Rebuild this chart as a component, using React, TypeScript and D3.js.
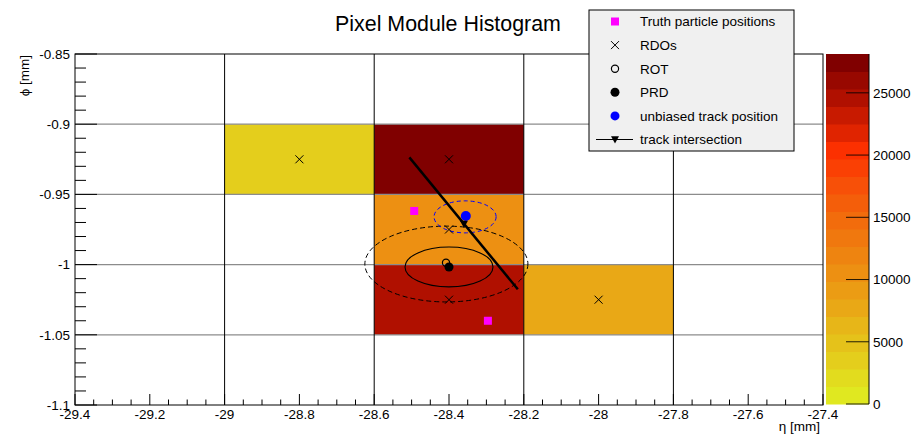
import React from "react";
import * as d3 from "d3";

// ---- data ----
const cellEta = [-29.0, -28.6, -28.6, -28.6, -28.2]; // lower eta edge
const cellPhi = [-0.95, -0.95, -1.0, -1.05, -1.05]; // lower phi edge
const cellValue = [4000, 28100, 10500, 24500, 7700];
const binW = 0.4;
const binH = 0.05;

const rdoEta = [-28.8, -28.4, -28.4, -28.4, -28.0];
const rdoPhi = [-0.925, -0.925, -0.975, -1.025, -1.025];

const truthEta = [-28.493, -28.296];
const truthPhi = [-0.9618, -1.04];

const rotPos = [-28.408, -0.9987];
const prdPos = [-28.4, -1.0017];
const unbiasedPos = [-28.355, -0.9654];
const intersectPos = [-28.36, -0.971];
const trackEta = [-28.506, -28.216];
const trackPhi = [-0.9236, -1.0176];

// ellipses: [cx, cy, rx, ry]
const prdErr = [-28.4, -1.0017, 0.1176, 0.0142];
const rotErr = [-28.407, -0.9996, 0.218, 0.027];
const unbiasedErr = [-28.357, -0.966, 0.083, 0.0114];

const xTicks = [-29.4, -29.2, -29, -28.8, -28.6, -28.4, -28.2, -28, -27.8, -27.6, -27.4];
const xTickLabels = ["-29.4", "-29.2", "-29", "-28.8", "-28.6", "-28.4", "-28.2", "-28", "-27.8", "-27.6", "-27.4"];
const yTicks = [-0.85, -0.9, -0.95, -1, -1.05, -1.1];
const yTickLabels = ["-0.85", "-0.9", "-0.95", "-1", "-1.05", "-1.1"];
const gridEta = [-29.0, -28.6, -28.2, -27.8];
const gridPhi = [-0.9, -0.95, -1.0, -1.05];
const zTicks = [0, 5000, 10000, 15000, 20000, 25000];
const zMax = 28120;

const palette = [
  "#e0e820", "#e2dc1e", "#e4ce1c", "#e5c21a", "#e7b618", "#e9a816", "#eb9c14", "#ed9012",
  "#ee8410", "#f0780e", "#f26c0c", "#f45e0a", "#f75008", "#fa4004", "#fc3000", "#e02400",
  "#c81a00", "#b01000", "#980800", "#800000",
];

const legendLabels = [
  "Truth particle positions",
  "RDOs",
  "ROT",
  "PRD",
  "unbiased track position",
  "track intersection",
];

const FONT = "'Liberation Sans', Arial, Helvetica, sans-serif";

export default function App() {
  const W = 919, H = 436;
  const L = 75, R = 823, T = 54, B = 405;
  const x = d3.scaleLinear().domain([-29.4, -27.4]).range([L, R]);
  const y = d3.scaleLinear().domain([-0.85, -1.1]).range([T, B]);
  const z = d3.scaleQuantize<string>().domain([0, zMax]).range(palette);
  const zb = d3.scaleLinear().domain([0, zMax]).range([404, 54]);
  const cbL = 826, cbR = 869;

  const minorX = d3.range(0, 41).map((i) => -29.4 + i * 0.05);
  const minorY = d3.range(0, 26).map((i) => -0.85 - i * 0.01);

  const cross = (cx: number, cy: number, s = 4) =>
    `M${cx - s},${cy - s}L${cx + s},${cy + s}M${cx - s},${cy + s}L${cx + s},${cy - s}`;
  const triDown = (cx: number, cy: number, s = 4) =>
    `M${cx - s},${cy - s * 0.8}L${cx + s},${cy - s * 0.8}L${cx},${cy + s}Z`;

  const ell = (e: number[], props: any) => (
    <ellipse
      cx={x(e[0])}
      cy={y(e[1])}
      rx={x(e[0] + e[2]) - x(e[0])}
      ry={y(e[1] - e[3]) - y(e[1])}
      fill="none"
      {...props}
    />
  );

  const legX = 589, legY = 10, legW = 205, legH = 141;
  const rowY = (i: number) => 21.5 + i * 23.6;
  const symX = 615;

  return (
    <svg width={W} height={H} style={{ position: "absolute", left: 0, top: 0, background: "#fff" }} fontFamily={FONT}>
      <rect x={0} y={0} width={W} height={H} fill="#fff" />
      {/* cells */}
      {cellValue.map((v, i) => (
        <rect
          key={"c" + i}
          x={x(cellEta[i])}
          y={y(cellPhi[i] + binH)}
          width={x(cellEta[i] + binW) - x(cellEta[i])}
          height={y(cellPhi[i]) - y(cellPhi[i] + binH)}
          fill={z(v)}
        />
      ))}
      {/* grid lines */}
      {gridPhi.map((p, i) => (
        <line key={"gh" + i} x1={L} x2={R} y1={y(p)} y2={y(p)} stroke="#8c8c8c" strokeWidth={1.2} />
      ))}
      {gridEta.map((e, i) => (
        <line key={"gv" + i} x1={x(e)} x2={x(e)} y1={T} y2={B} stroke="#000" strokeWidth={1} />
      ))}
      {/* x ticks */}
      {minorX.map((v, i) => {
        const major = i % 4 === 0;
        return (
          <line key={"mx" + i} x1={x(v)} x2={x(v)} y1={B} y2={B - (major ? 11 : 5.5)} stroke="#000" strokeWidth={1} />
        );
      })}
      {minorY.map((v, i) => {
        const major = i % 5 === 0;
        return (
          <line key={"my" + i} x1={L} x2={L + (major ? 22 : 11)} y1={y(v)} y2={y(v)} stroke="#000" strokeWidth={1} />
        );
      })}
      {/* frame */}
      <rect x={L} y={T} width={R - L} height={B - T} fill="none" stroke="#000" strokeWidth={1} />
      {/* tick labels */}
      {xTicks.map((v, i) => (
        <text key={"xl" + i} x={x(v)} y={419} textAnchor="middle" fontSize={13.5} fill="#000">
          {xTickLabels[i]}
        </text>
      ))}
      {yTicks.map((v, i) => (
        <text key={"yl" + i} x={70} y={y(v) + 4.8} textAnchor="end" fontSize={13.5} fill="#000">
          {yTickLabels[i]}
        </text>
      ))}
      <text x={820} y={431} textAnchor="end" fontSize={13.5} fill="#000">η [mm]</text>
      <text transform={`translate(29,55) rotate(-90)`} textAnchor="end" fontSize={13.5} fill="#000">ϕ [mm]</text>
      {/* title */}
      <text x={448} y={31} textAnchor="middle" fontSize={21.4} fill="#000">Pixel Module Histogram</text>

      {/* ellipses */}
      {ell(rotErr, { stroke: "#000", strokeWidth: 1, strokeDasharray: "5,3" })}
      {ell(prdErr, { stroke: "#000", strokeWidth: 1.1 })}
      {ell(unbiasedErr, { stroke: "#0000ff", strokeWidth: 1, strokeDasharray: "4,3" })}

      {/* RDOs */}
      {rdoEta.map((e, i) => (
        <path key={"r" + i} d={cross(x(e), y(rdoPhi[i]))} stroke="#000" strokeWidth={1} fill="none" />
      ))}
      {/* truth */}
      {truthEta.map((e, i) => (
        <rect key={"t" + i} x={x(e) - 4} y={y(truthPhi[i]) - 4} width={8} height={8} fill="#ff00ff" />
      ))}
      {/* track */}
      <line
        x1={x(trackEta[0])}
        y1={y(trackPhi[0])}
        x2={x(trackEta[1])}
        y2={y(trackPhi[1])}
        stroke="#000"
        strokeWidth={2.5}
      />
      <circle cx={x(unbiasedPos[0])} cy={y(unbiasedPos[1])} r={5} fill="#0000ff" />
      <path d={triDown(x(intersectPos[0]), y(intersectPos[1]), 4)} fill="#000" />
      <circle cx={x(prdPos[0])} cy={y(prdPos[1])} r={4.5} fill="#000" />
      <circle cx={x(rotPos[0])} cy={y(rotPos[1])} r={3.6} fill="none" stroke="#000" strokeWidth={1.2} />

      {/* color bar */}
      {palette.map((c, i) => {
        const lo = (i * zMax) / palette.length;
        const hi = ((i + 1) * zMax) / palette.length;
        return <rect key={"cb" + i} x={cbL} y={zb(hi)} width={cbR - cbL} height={zb(lo) - zb(hi) + 0.5} fill={c} />;
      })}
      <line x1={cbR} x2={cbR} y1={54} y2={404} stroke="#000" strokeWidth={1} />
      {zTicks.map((v, i) => (
        <g key={"zt" + i}>
          <line x1={cbR - 23} x2={cbR} y1={zb(v)} y2={zb(v)} stroke="#000" strokeWidth={1} opacity={0.85} />
          <text x={873} y={zb(v) + 4.8} fontSize={13.5} fill="#000">{String(v)}</text>
        </g>
      ))}

      {/* legend */}
      <rect x={legX} y={legY} width={legW} height={legH} fill="#f0f0f0" stroke="#000" strokeWidth={1} />
      {legendLabels.map((t, i) => (
        <text key={"lg" + i} x={640} y={rowY(i) + 4.8} fontSize={13.5} fill="#000">{t}</text>
      ))}
      <rect x={symX - 4} y={rowY(0) - 4} width={8} height={8} fill="#ff00ff" />
      <path d={cross(symX, rowY(1), 4)} stroke="#000" strokeWidth={1} fill="none" />
      <circle cx={symX} cy={rowY(2)} r={3.6} fill="none" stroke="#000" strokeWidth={1.2} />
      <circle cx={symX} cy={rowY(3)} r={4.5} fill="#000" />
      <circle cx={symX} cy={rowY(4)} r={4.5} fill="#0000ff" />
      <line x1={596} x2={633} y1={rowY(5)} y2={rowY(5)} stroke="#000" strokeWidth={1.2} />
      <path d={triDown(symX, rowY(5), 4)} fill="#000" />
    </svg>
  );
}
